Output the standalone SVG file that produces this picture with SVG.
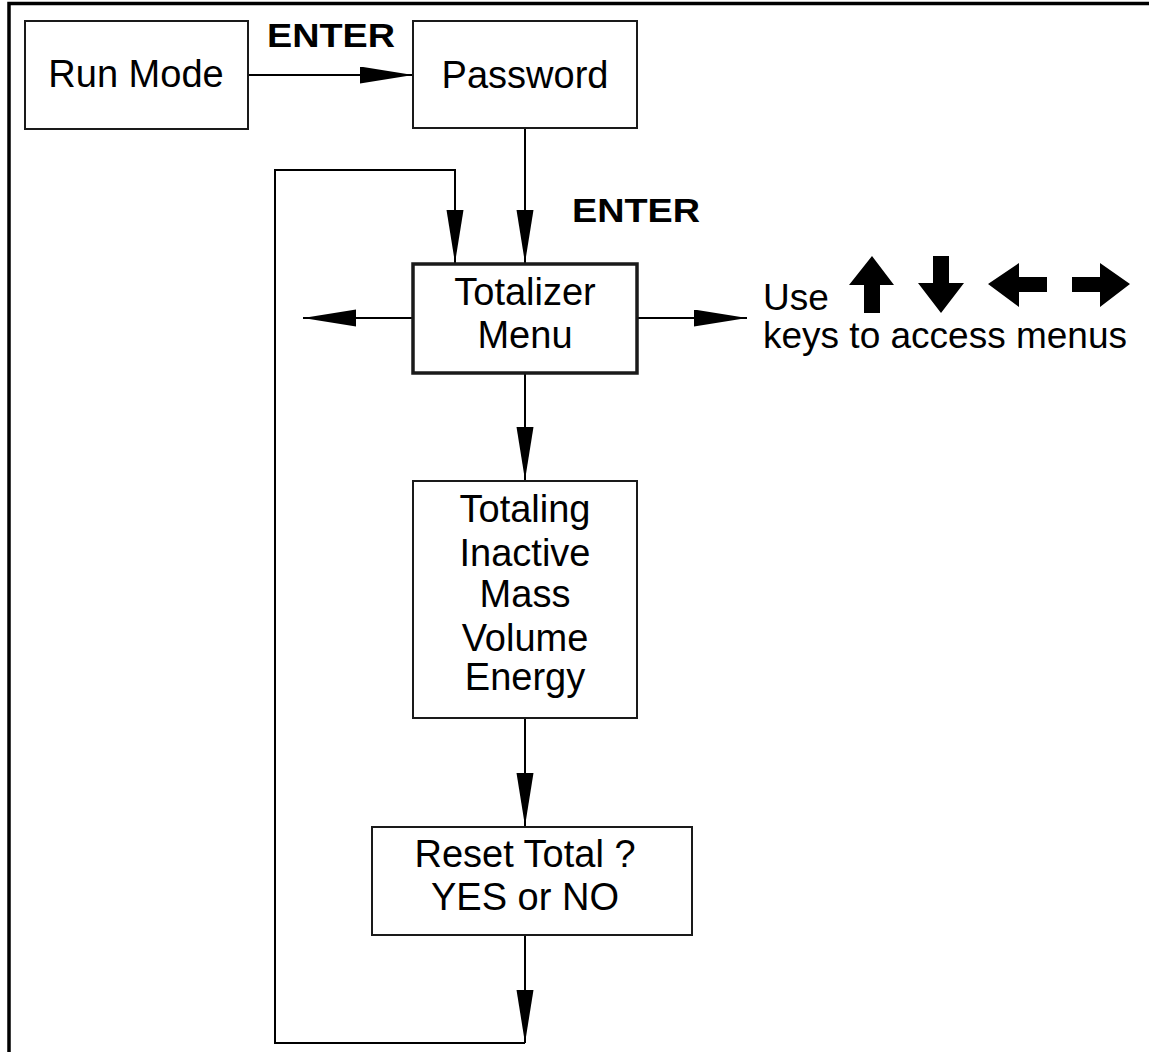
<svg xmlns="http://www.w3.org/2000/svg" width="1149" height="1052" viewBox="0 0 1149 1052">
<style>
.box{fill:#fff;stroke:#1a1a1a;stroke-width:2}
.thick{stroke-width:3.5}
.t{font-family:"Liberation Sans",Arial,sans-serif;font-size:38px;fill:#000;text-anchor:middle}
.ts{font-family:"Liberation Sans",Arial,sans-serif;font-size:37px;fill:#000}
.b{font-family:"Liberation Sans",Arial,sans-serif;font-size:33px;font-weight:bold;fill:#000}
.c{fill:none;stroke:#000;stroke-width:2}
.key{fill:#000}
</style>
<defs>
<marker id="ah" markerUnits="userSpaceOnUse" markerWidth="54" markerHeight="18" refX="53" refY="8.5" orient="auto">
<path d="M0,0 L53,8.5 L0,17 z" fill="#000"/>
</marker>
</defs>
<rect width="1149" height="1052" fill="#fff"/>
<path d="M9,1052 V3.5 H1149" fill="none" stroke="#000" stroke-width="3.5"/>

<g id="connectors">
<path class="c" d="M248,75 H413" marker-end="url(#ah)"/>
<path class="c" d="M525,128 V263" marker-end="url(#ah)"/>
<path class="c" d="M413,318 H303" marker-end="url(#ah)"/>
<path class="c" d="M637,318 H747" marker-end="url(#ah)"/>
<path class="c" d="M525,373 V480" marker-end="url(#ah)"/>
<path class="c" d="M525,718 V826" marker-end="url(#ah)"/>
<path class="c" d="M525,935 V1043" marker-end="url(#ah)"/>
<path class="c" d="M525,1043 H275 V170 H455 V263" marker-end="url(#ah)"/>
</g>

<g id="label-enter1"><text class="b" x="267" y="47" textLength="128" lengthAdjust="spacingAndGlyphs">ENTER</text></g>
<g id="label-enter2"><text class="b" x="572" y="222" textLength="128" lengthAdjust="spacingAndGlyphs">ENTER</text></g>

<g id="run-mode">
<rect class="box" x="25" y="21" width="223" height="108"/>
<text class="t" x="136" y="87">Run Mode</text>
</g>
<g id="password">
<rect class="box" x="413" y="21" width="224" height="107"/>
<text class="t" x="525" y="88">Password</text>
</g>
<g id="totalizer-menu">
<rect class="box thick" x="413" y="264" width="224" height="109"/>
<text class="t" x="525" y="305">Totalizer</text>
<text class="t" x="525" y="348">Menu</text>
</g>
<g id="totaling">
<rect class="box" x="413" y="481" width="224" height="237"/>
<text class="t" x="525" y="522">Totaling</text>
<text class="t" x="525" y="566">Inactive</text>
<text class="t" x="525" y="607">Mass</text>
<text class="t" x="525" y="651">Volume</text>
<text class="t" x="525" y="690">Energy</text>
</g>
<g id="reset-total">
<rect class="box" x="372" y="827" width="320" height="108"/>
<text class="t" x="525" y="867">Reset Total ?</text>
<text class="t" x="525" y="910">YES or NO</text>
</g>
<g id="keys-note">
<text class="ts" x="763" y="310">Use</text>
<polygon class="key" points="872,256 894,285 880,285 880,313 864,313 864,285 849,285"/>
<polygon class="key" points="933,256 949,256 949,283 964,283 941,313 918,283 933,283"/>
<polygon class="key" points="988,284 1019,263 1019,277 1047,277 1047,292 1019,292 1019,307"/>
<polygon class="key" points="1130,284 1100,263 1100,277 1072,277 1072,292 1100,292 1100,307"/>
<text class="ts" x="763" y="348">keys to access menus</text>
</g>
</svg>
